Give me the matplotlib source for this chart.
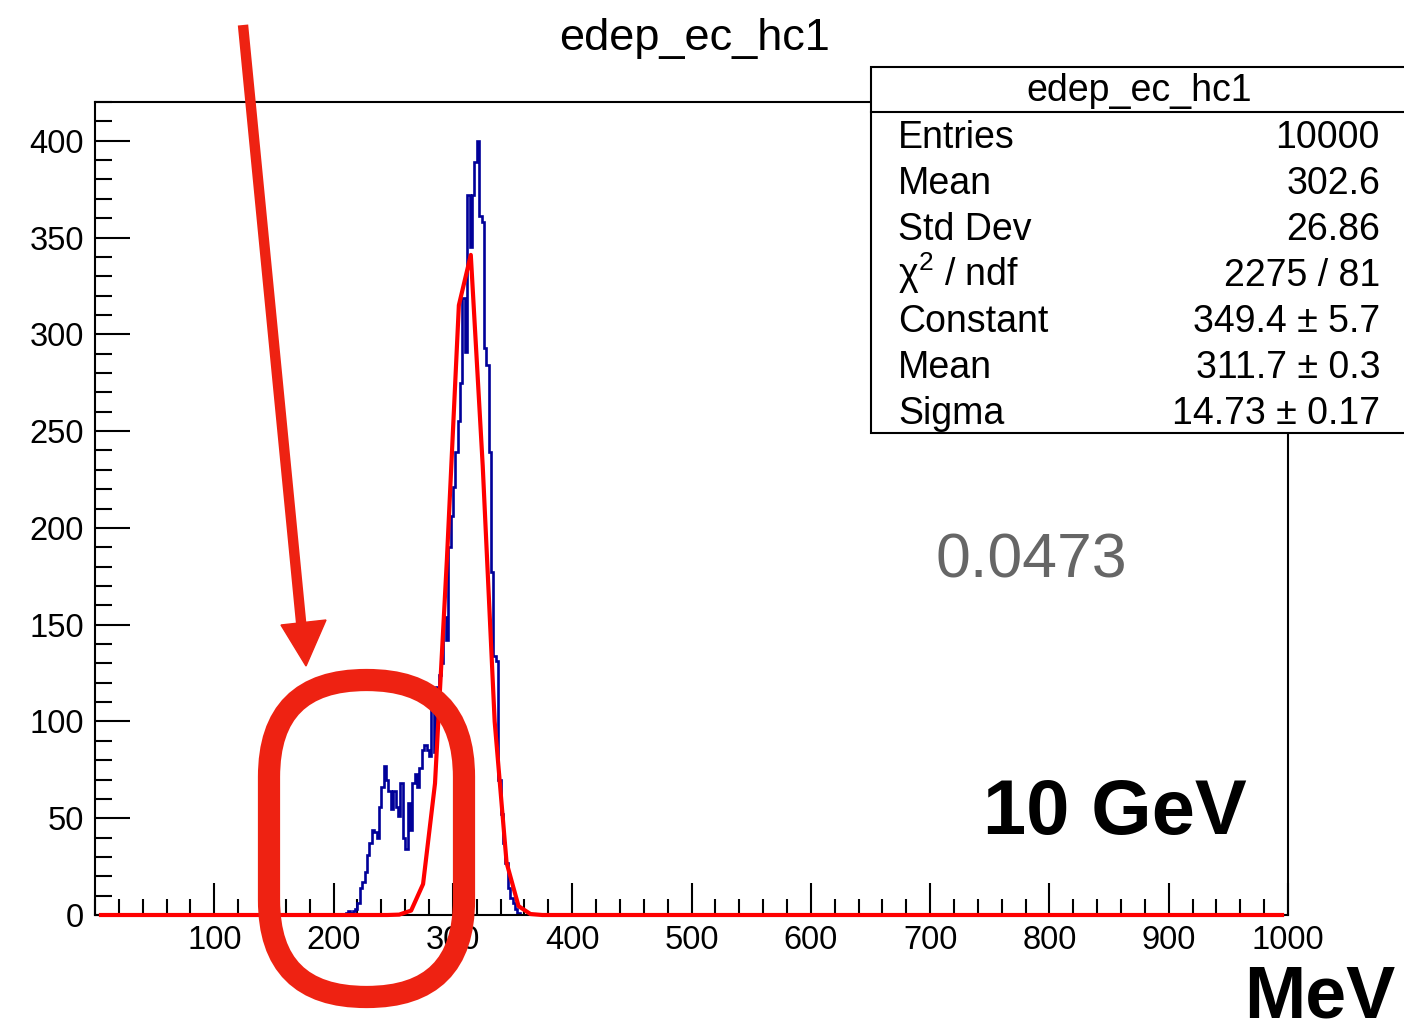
import numpy as np
import matplotlib.pyplot as plt
from matplotlib.patches import Rectangle, FancyBboxPatch, Polygon
from matplotlib.ticker import MultipleLocator

plt.rcParams['font.family'] = ['Liberation Sans', 'DejaVu Sans']
plt.rcParams['mathtext.fontset'] = 'custom'
plt.rcParams['mathtext.rm'] = 'Liberation Sans'

# histogram edep_ec_hc1: 2 MeV bins on 0-1000, non-empty bins start at 210 MeV
bin_width = 2
first_bin = 210
counts_nonzero = [1, 2, 1, 2, 3, 6, 14, 17, 22, 31,
                  37, 44, 43, 40, 56, 66, 77, 70, 64, 55,
                  64, 56, 51, 68, 40, 34, 58, 44, 68, 73,
                  66, 76, 85, 88, 85, 82, 116, 84, 118, 124,
                  130, 154, 142, 190, 206, 221, 239, 255, 275, 319,
                  291, 372, 345, 372, 389, 400, 361, 358, 293, 284,
                  239, 177, 134, 131, 70, 52, 37, 27, 14, 9,
                  6, 3, 1]

# gaus fit polyline (vertices as drawn)
fit_x = [5, 245, 255, 265, 275, 285, 295, 305, 315, 325, 335, 345, 355, 365, 375, 995]
fit_y = [0, 0, 0.2, 2.3, 16, 68, 184, 315, 341, 232, 100, 27, 4.6, 0.5, 0, 0]

stats_labels = ['Entries', 'Mean', 'Std Dev', r'χ$^{2}$ / ndf', 'Constant', 'Mean', 'Sigma']
stats_values = ['10000', '302.6', '26.86', '2275 / 81', '349.4 ± 5.7', '311.7 ± 0.3', '14.73 ± 0.17']

W, H = 1404, 1034
fig = plt.figure(figsize=(W / 100, H / 100), dpi=100)
ax = fig.add_axes([95 / W, 119 / H, 1193 / W, 813 / H])

edges = np.arange(0, 1000 + bin_width, bin_width)
counts = np.zeros(len(edges) - 1)
i0 = first_bin // bin_width
counts[i0:i0 + len(counts_nonzero)] = counts_nonzero
ax.stairs(counts, edges, color='#000099', lw=1.9, zorder=2)
ax.plot(fit_x, fit_y, color='red', lw=3, zorder=3, clip_on=False)

ax.set_xlim(0, 1000)
ax.set_ylim(0, 420)
ax.set_xticks(np.arange(100, 1001, 100))
ax.xaxis.set_minor_locator(MultipleLocator(20))
ax.set_yticks(np.arange(0, 401, 50))
ax.yaxis.set_minor_locator(MultipleLocator(10))
ax.tick_params(axis='x', which='major', direction='in', length=23, width=1.5, labelsize=23.5, pad=7)
ax.tick_params(axis='x', which='minor', direction='in', length=11.5, width=1.5)
ax.tick_params(axis='y', which='major', direction='in', length=25, width=1.5, labelsize=23.5, pad=8)
ax.tick_params(axis='y', which='minor', direction='in', length=12.5, width=1.5)
for s in ax.spines.values():
    s.set_linewidth(1.5)

# overlay in pixel coordinates for texts, stats box and annotations
ov = fig.add_axes([0, 0, 1, 1], facecolor='none')
ov.set_xlim(0, W)
ov.set_ylim(H, 0)
ov.axis('off')

ov.text(695, 50, 'edep_ec_hc1', fontsize=32.5, ha='center', va='baseline')

ov.add_patch(Rectangle((871, 67), 600, 366, facecolor='white', edgecolor='black', lw=1.5))
ov.plot([871, W], [112, 112], color='black', lw=1.5)
ov.text(1139, 101, 'edep_ec_hc1', fontsize=27, ha='center', va='baseline')
for i, (lab, val) in enumerate(zip(stats_labels, stats_values)):
    yb = 148 + i * 46
    ov.text(898, yb, lab, fontsize=27, ha='left', va='baseline')
    ov.text(1380, yb, val, fontsize=27, ha='right', va='baseline')

ov.text(1031, 578, '0.0473', fontsize=45, color='#666666', ha='center', va='baseline')
ov.text(1115, 834, '10 GeV', fontsize=56, fontweight='bold', ha='center', va='baseline')
ov.text(1395, 1017, 'MeV', fontsize=53, fontweight='bold', ha='right', va='baseline')

ann = '#EE2212'
ov.plot([243, 302], [25, 632], color=ann, lw=7.5, solid_capstyle='butt')
ov.add_patch(Polygon([(281, 625), (326, 620), (306, 666)], closed=True, color=ann))
ov.add_patch(FancyBboxPatch((269, 680), 195, 317, boxstyle='round,pad=0,rounding_size=97',
                            facecolor='none', edgecolor=ann, lw=16))

fig.savefig('out.png', dpi=100)
